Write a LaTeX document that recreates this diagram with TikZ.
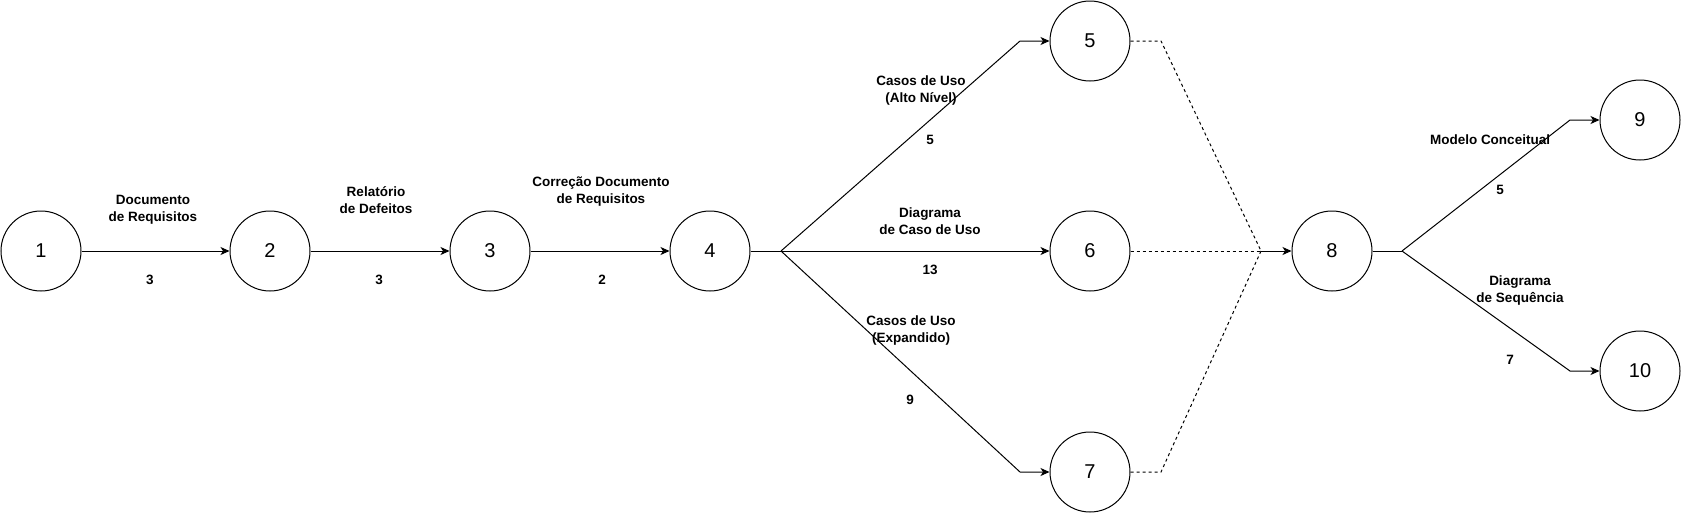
\documentclass[tikz,border=0pt]{standalone}
\usepackage{fontspec}
\setmainfont{Liberation Sans}
\usetikzlibrary{arrows.meta}

\def\R{40}

\tikzset{
  evento/.style={draw, circle, minimum size=2*\R pt, inner sep=0pt, font=\fontsize{20}{24}\selectfont},
  rotulo/.style={align=center, inner sep=0pt, font=\fontsize{13.5}{17}\selectfont\bfseries},
  seta/.style={-{Stealth[length=9pt, width=8pt, inset=2.5pt]}},
  fantasma/.style={dash pattern=on 3pt off 3pt}
}

\begin{document}
\begin{tikzpicture}[x=1pt, y=-1pt, line width=1pt]
            \useasboundingbox (0,0) rectangle (1682,512);

            % eventos
            \node[evento] (n1) at (41,251) {1};
            \node[evento] (n2) at (270,251) {2};
            \node[evento] (n3) at (490,251) {3};
            \node[evento] (n4) at (710,251) {4};
            \node[evento] (n5) at (1090,41) {5};
            \node[evento] (n6) at (1090,251) {6};
            \node[evento] (n7) at (1090,472) {7};
            \node[evento] (n8) at (1332,251) {8};
            \node[evento] (n9) at (1640,120) {9};
            \node[evento] (n10) at (1640,371) {10};

            % pontos de quebra
            \coordinate (b4) at (781,251);
            \coordinate (k5) at (1020,41);
            \coordinate (k7) at (1020,472);
            \coordinate (d5) at (1161,41);
            \coordinate (d7) at (1161,472);
            \coordinate (j8) at (1261,251);
            \coordinate (b8) at (1402,251);
            \coordinate (k9) at (1570,120);
            \coordinate (k10) at (1570,371);

            % atividades
            \draw[seta] (n1) -- (n2);
            \draw[seta] (n2) -- (n3);
            \draw[seta] (n3) -- (n4);
            \draw (n4) -- (b4);
            \draw[seta] (b4) -- (k5) -- (n5);
            \draw[seta] (b4) -- (n6);
            \draw[seta] (b4) -- (k7) -- (n7);
            \draw[fantasma] (n5) -- (d5) -- (j8);
            \draw[fantasma] (n6) -- (j8);
            \draw[fantasma] (n7) -- (d7) -- (j8);
            \draw[seta] (j8) -- (n8);
            \draw (n8) -- (b8);
            \draw[seta] (b8) -- (k9) -- (n9);
            \draw[seta] (b8) -- (k10) -- (n10);

            % nomes e duracoes
            \node[rotulo] (a12) at (153,210) {Documento\\de Requisitos};
            \node[rotulo] (t12) at (150,280) {3};
            \node[rotulo] (a23) at (376,200) {Relatório\\de Defeitos};
            \node[rotulo] (t23) at (379,280) {3};
            \node[rotulo] (a34) at (601,192) {Correção Documento\\de Requisitos};
            \node[rotulo] (t34) at (602,280) {2};
            \node[rotulo] (a45) at (921,91) {Casos de Uso\\(Alto Nível)};
            \node[rotulo] (t45) at (930,140) {5};
            \node[rotulo] (a46) at (930,221) {Diagrama\\de Caso de Uso};
            \node[rotulo] (t46) at (930,270) {13};
            \node[rotulo] (a47) at (911,331) {Casos de Uso\\(Expandido)};
            \node[rotulo] (t47) at (910,400) {9};
            \node[rotulo] (a89) at (1490,140) {Modelo Conceitual};
            \node[rotulo] (t89) at (1500,190) {5};
            \node[rotulo] (a810) at (1520,291) {Diagrama\\de Sequência};
            \node[rotulo] (t810) at (1510,360) {7};

        \end{tikzpicture}
\end{document}
